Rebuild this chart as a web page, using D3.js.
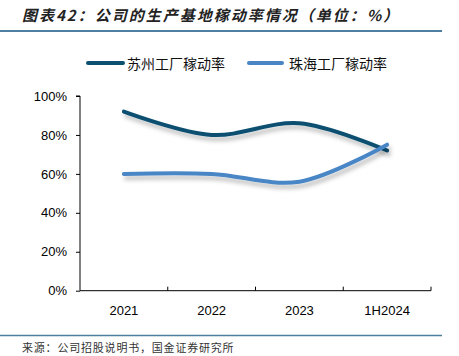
<!DOCTYPE html>
<html><head><meta charset="utf-8">
<script src="https://cdn.jsdelivr.net/npm/d3@7"></script>
<style>body{margin:0;background:#fff}</style>
</head><body>
<svg id="c" width="459" height="356"></svg>
<script>
const categories = ["2021","2022","2023","1H2024"];
const suzhou = [92,80,86,72];
const zhuhai = [60,60,56,75];
const yTicks = [0,20,40,60,80,100];
const seriesNames = ["苏州工厂稼动率","珠海工厂稼动率"];
const colors = ["#0B4F71","#4A86C5"];

const svg = d3.select("#c");
const defs = svg.append("defs");
const f = defs.append("filter").attr("id","sh").attr("x","-10%").attr("y","-30%").attr("width","130%").attr("height","200%");
f.append("feDropShadow").attr("dx",2).attr("dy",4).attr("stdDeviation",2).attr("flood-color","#000").attr("flood-opacity",0.25);

const cjk = "'Noto Sans CJK SC', sans-serif";
// title
svg.append("text").attr("x",22).attr("y",21).attr("font-family",cjk).attr("font-size",15).attr("font-weight","bold").attr("font-style","italic").attr("letter-spacing",2).attr("fill","#222").text("图表42：公司的生产基地稼动率情况（单位：%）");
svg.append("line").attr("x1",0).attr("x2",442).attr("y1",31).attr("y2",31).attr("stroke","#4E7FA0").attr("stroke-width",2);
svg.append("line").attr("x1",0).attr("x2",442).attr("y1",335.5).attr("y2",335.5).attr("stroke","#4E7FA0").attr("stroke-width",1.5);
svg.append("text").attr("x",22).attr("y",352).attr("font-family",cjk).attr("font-size",11).attr("letter-spacing",0.8).attr("fill","#333").text("来源：公司招股说明书，国金证券研究所");

const x = d3.scaleBand().domain(categories).range([80,431]);
const y = d3.scaleLinear().domain([0,100]).range([290.7,96]);

const ya = svg.append("g").attr("transform","translate(80,0)").call(d3.axisLeft(y).tickValues(yTicks).tickFormat(d=>d+"%").tickSize(4).tickPadding(9));
ya.select(".domain").attr("d","M-4,96H0V290.7");
const xa = svg.append("g").attr("transform","translate(0,290.7)").call(d3.axisBottom(x).tickSize(0).tickPadding(15));
xa.select(".domain").remove();
const bounds = categories.map(c=>x(c)).concat([x.range()[1]]);
svg.append("line").attr("x1",80).attr("x2",431).attr("y1",290.7).attr("y2",290.7).attr("stroke","#000");
svg.selectAll(".bt").data(bounds.slice(1)).enter().append("line").attr("x1",d=>d).attr("x2",d=>d).attr("y1",290.7).attr("y2",286.7).attr("stroke","#000");
svg.selectAll(".tick text").attr("font-family","Arial, 'Liberation Sans', sans-serif").attr("font-size",13).attr("fill","#000");
svg.selectAll(".tick line").attr("stroke","#000");
ya.select(".domain").attr("stroke","#000");

const line = d3.line().x((d,i)=>x(categories[i])+x.bandwidth()/2).y(d=>y(d)).curve(d3.curveCatmullRom.alpha(0.5));
[suzhou,zhuhai].forEach((s,i)=>{
  svg.append("path").attr("d",line(s)).attr("fill","none").attr("stroke",colors[i]).attr("stroke-width",4).attr("stroke-linecap","round").attr("filter","url(#sh)");
});

const lg = [[88,123,127],[249,282,289]];
lg.forEach((p,i)=>{
  svg.append("line").attr("x1",p[0]).attr("x2",p[1]).attr("y1",63).attr("y2",63).attr("stroke",colors[i]).attr("stroke-width",4).attr("stroke-linecap","round");
  svg.append("text").attr("x",p[2]).attr("y",68.5).attr("font-family",cjk).attr("font-size",14).attr("fill","#111").text(seriesNames[i]);
});
</script>
</body></html>
